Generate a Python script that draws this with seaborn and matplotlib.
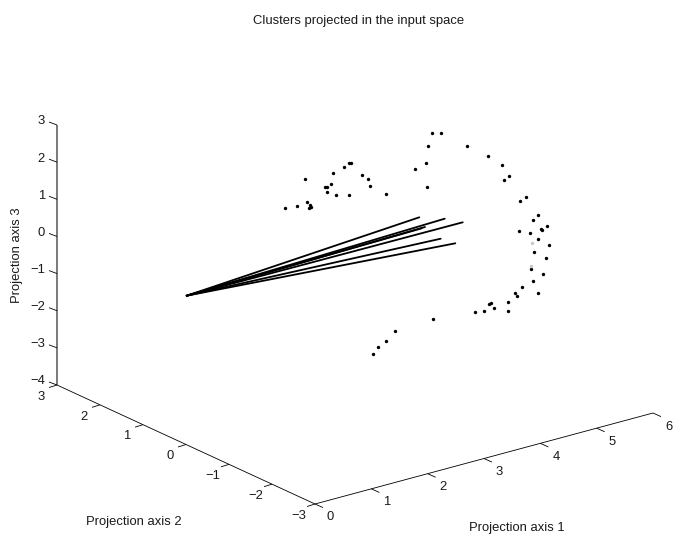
import numpy as np
import pandas as pd
import matplotlib
matplotlib.use("Agg")
import matplotlib.pyplot as plt
import seaborn as sns

# Values, given in projected (screen-plane) coordinates
points_u = [305.3, 285.3, 297.3, 307.3, 309.7, 310.7, 308.7, 325.3, 327.3, 330.7, 326.7, 336.3, 349.0,
            332.7, 343.7, 349.0, 350.7, 361.7, 368.0, 370.0, 385.7,
            432.3, 441.3, 428.3, 466.7, 426.0, 415.0, 427.3, 488.0, 501.7, 509.3, 504.3, 525.7, 520.3,
            538.0, 532.7, 547.3, 541.3, 542.3, 519.3, 530.0, 538.3, 549.3, 534.0, 545.7,
            531.3, 543.0, 533.0, 522.0, 515.3, 517.0, 538.3, 508.0, 491.3, 488.7, 494.3, 507.7, 484.3,
            475.3, 433.3, 395.0, 386.0, 377.7, 373.3]
points_v = [179.3, 208.3, 206.3, 202.3, 205.0, 207.0, 208.3, 187.0, 187.0, 184.3, 192.3, 194.7, 194.7,
            173.0, 166.7, 163.3, 163.3, 175.3, 179.3, 186.3, 193.7,
            133.3, 133.0, 146.0, 145.7, 162.7, 169.3, 187.3, 156.0, 164.7, 175.7, 179.7, 197.3, 201.3,
            215.3, 219.7, 225.7, 228.7, 230.0, 230.7, 233.0, 239.3, 244.7, 252.3, 257.7,
            269.0, 274.3, 280.7, 286.7, 293.3, 296.0, 293.3, 301.7, 302.7, 303.7, 308.3, 310.7, 311.3,
            312.3, 318.7, 330.7, 341.0, 346.7, 354.3]
faint_u = [532.0, 530.7]
faint_v = [243.3, 265.7]

apex_u = 186.7
apex_v = 295.7
ray_end_u = [419.3, 444.7, 462.7, 425.0, 421.7, 440.7, 455.3]
ray_end_v = [217.3, 218.7, 222.3, 227.0, 228.3, 238.7, 243.3]

x_ticks = [0, 1, 2, 3, 4, 5, 6]
y_ticks = [3, 2, 1, 0, -1, -2, -3]
z_ticks = [-4, -3, -2, -1, 0, 1, 2, 3]

title = "Clusters projected in the input space"
x_label = "Projection axis 1"
y_label = "Projection axis 2"
z_label = "Projection axis 3"


def project(x, y, z):
    """Orthographic box projection onto the figure plane."""
    u = 315 + x / 6 * 338 + (y + 3) / 6 * (-258)
    v = 504 - x / 6 * 91 + (y + 3) / 6 * (-119) - (z + 4) / 7 * 260
    return u, v


sns.set_theme(style="white")
plt.rcParams["font.family"] = ["Liberation Sans", "DejaVu Sans"]
FS = 9.4
TXT = "#1a1a1a"

fig = plt.figure(figsize=(6.73, 5.38), dpi=100)
ax = fig.add_axes([0, 0, 1, 1])

# Box axes
axis_kw = dict(color="black", lw=0.6, solid_capstyle="butt")
ax.plot(*zip(project(0, -3, -4), project(6, -3, -4)), **axis_kw)
ax.plot(*zip(project(0, -3, -4), project(0, 3, -4)), **axis_kw)
ax.plot(*zip(project(0, 3, -4), project(0, 3, 3)), color="#555555", lw=1.1, solid_capstyle="butt")

for t in x_ticks:
    u, v = project(t, -3, -4)
    ax.plot([u, u + 8], [v, v + 3.6], **axis_kw)
    ax.text(u + 15.5, v + 13.5, str(t), fontsize=FS, ha="center", va="center", color=TXT)
for t in y_ticks:
    u, v = project(0, t, -4)
    ax.plot([u, u - 8], [v, v + 2.5], **axis_kw)
    ax.text(u - 16.3, v + 11.7, str(t).replace("-", "\u2212"), fontsize=FS, ha="center", va="center", color=TXT)
for t in z_ticks:
    u, v = project(0, 3, t)
    ax.plot([u, u - 8], [v, v - 3], **axis_kw)
    ax.text(45, v - 3.5, str(t).replace("-", "\u2212"), fontsize=FS, ha="right", va="center", color=TXT)

# Data marks
rays = pd.DataFrame(
    {
        "u": np.ravel([[apex_u, eu] for eu in ray_end_u]),
        "v": np.ravel([[apex_v, ev] for ev in ray_end_v]),
        "ray": np.repeat(np.arange(len(ray_end_u)), 2),
    }
)
sns.lineplot(data=rays, x="u", y="v", units="ray", estimator=None, sort=False,
             color="black", lw=1.3, ax=ax, legend=False)
sns.scatterplot(x=points_u, y=points_v, s=6, color="black", linewidth=0, ax=ax, legend=False)
sns.scatterplot(x=faint_u, y=faint_v, s=6, color="#c8c8c8", linewidth=0, ax=ax, legend=False)
ax.set_xlim(0, 673)
ax.set_ylim(538, 0)
ax.axis("off")

# Text
ax.text(359, 21, title, fontsize=FS, ha="center", va="center", color=TXT)
ax.text(517, 528, x_label, fontsize=FS, ha="center", va="center", color=TXT)
ax.text(134, 522, y_label, fontsize=FS, ha="center", va="center", color=TXT)
ax.text(17, 255, z_label, fontsize=FS, ha="center", va="center", rotation=90, color=TXT)

fig.savefig("out.png", dpi=100)
